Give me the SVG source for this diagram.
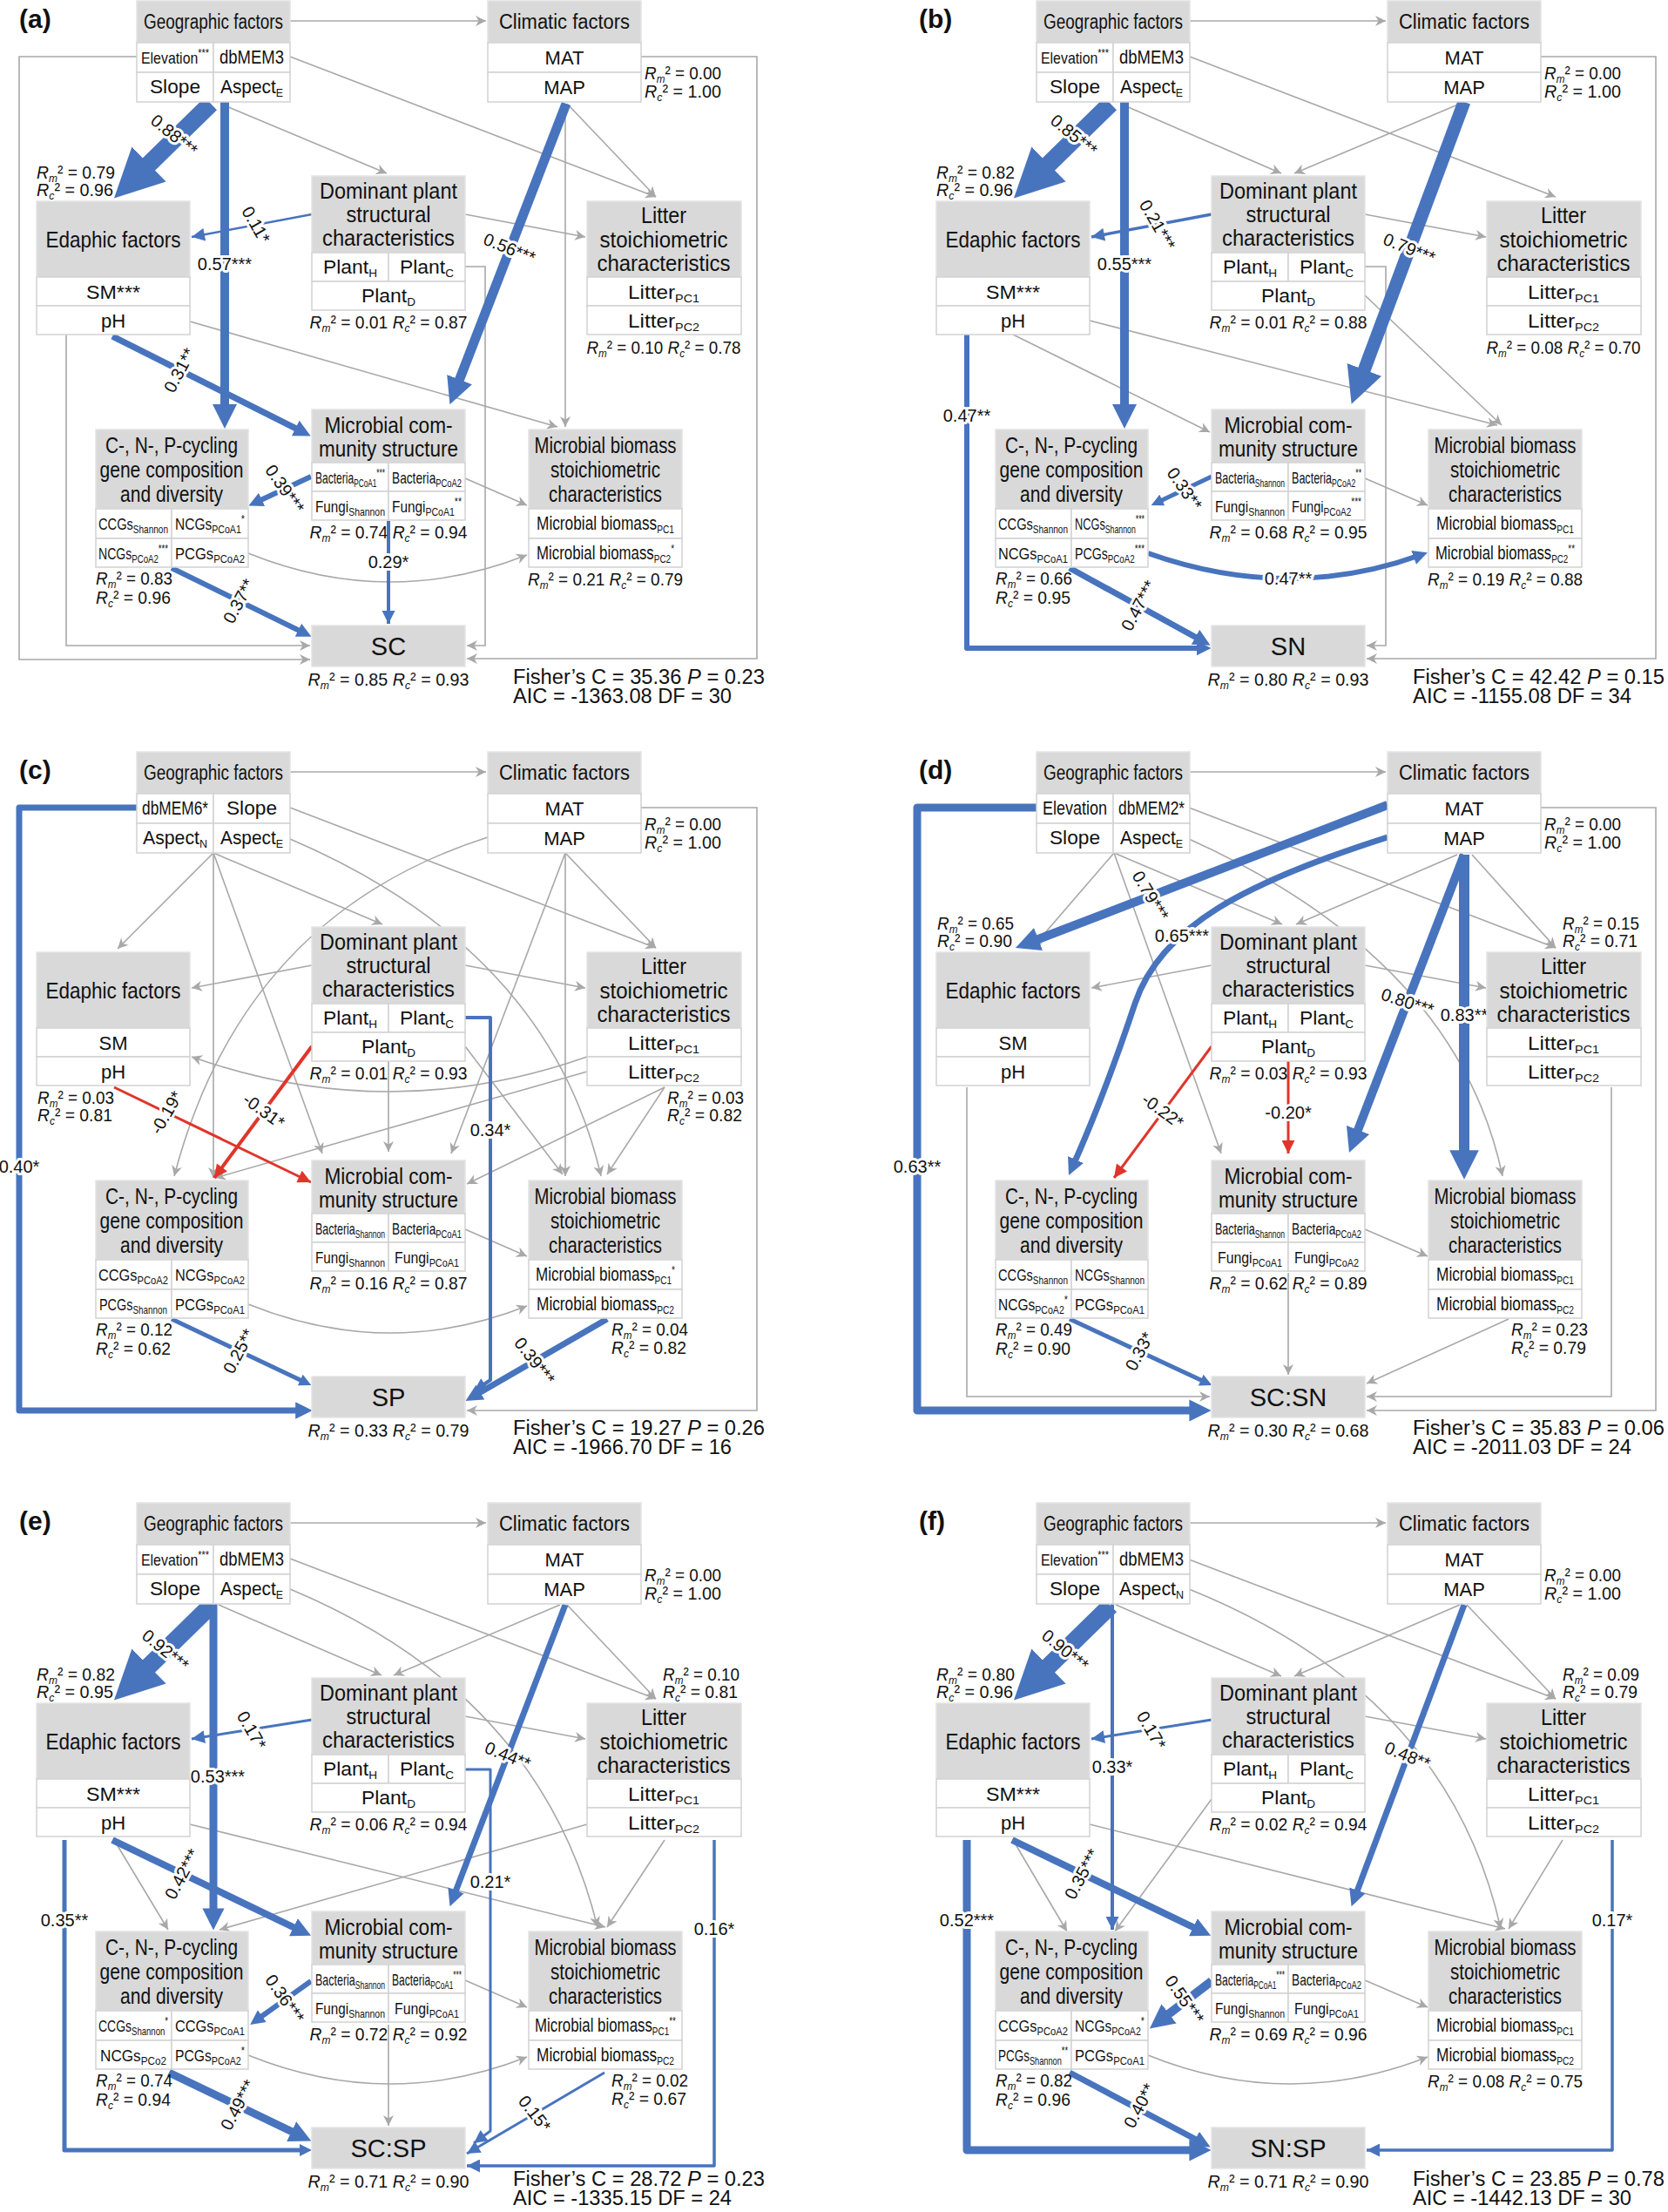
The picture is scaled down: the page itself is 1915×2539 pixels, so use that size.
<svg xmlns="http://www.w3.org/2000/svg" xmlns:xlink="http://www.w3.org/1999/xlink" width="1915" height="2539" viewBox="0 0 1915 2539">
<style>
text{font-family:"Liberation Sans Narrow","Liberation Sans",Arial,sans-serif;fill:#111}
.h{fill:#d9d9d9;stroke:#e4e4e4;stroke-width:1.5}
.c{fill:#fff;stroke:#d2d2d2;stroke-width:1.5}
.h1{font-size:23px;text-anchor:middle}
.h2{font-size:25px;text-anchor:middle}
.cl{font-size:22px;text-anchor:middle}
.cs{font-size:19px;text-anchor:middle}
.s{font-size:13px}
.i{font-style:italic}
.rm{font-size:21px}
.rmc{font-size:21px;text-anchor:middle}
.rs{font-size:29px;text-anchor:middle}
.fi{font-size:23px}
.pl{font-family:"Liberation Sans",Arial,sans-serif;font-weight:bold;font-size:30px}
.g{fill:none;stroke:#a8a8a8;stroke-width:1.6;marker-end:url(#ag)}
.b{fill:none;stroke:#4874be;stroke-linejoin:round;marker-end:url(#ab)}
.bt{fill:none;stroke:#4874be;stroke-linejoin:round;marker-end:url(#abs)}
.r{fill:none;stroke:#e0352b;marker-end:url(#ar)}
.lb{font-size:20px;text-anchor:middle;dominant-baseline:central;stroke:#fff;stroke-width:6;paint-order:stroke;stroke-linejoin:round}
</style>
<defs>
<marker id="ag" viewBox="0 0 10 10" refX="10" refY="5" markerUnits="userSpaceOnUse" markerWidth="13" markerHeight="12" orient="auto"><path d="M0,0 L10,5 L0,10 L3,5 z" fill="#a8a8a8"/></marker>
<marker id="ab" viewBox="0 0 10 10" refX="5" refY="5" markerWidth="2.8" markerHeight="3" orient="auto"><path d="M0,0 L10,5 L0,10 z" fill="#4874be"/></marker>
<marker id="abs" viewBox="0 0 10 10" refX="10" refY="5" markerUnits="userSpaceOnUse" markerWidth="17" markerHeight="15" orient="auto"><path d="M0,0 L10,5 L0,10 z" fill="#4874be"/></marker>
<marker id="ar" viewBox="0 0 10 10" refX="10" refY="5" markerUnits="userSpaceOnUse" markerWidth="18" markerHeight="15" orient="auto"><path d="M0,0 L10,5 L0,10 z" fill="#e0352b"/></marker>
<g id="geoBox"><rect class="h" x="157" y="1" width="176" height="48"/><rect class="c" x="157" y="49" width="88" height="34"/><rect class="c" x="245" y="49" width="88" height="34"/><rect class="c" x="157" y="83" width="88" height="34"/><rect class="c" x="245" y="83" width="88" height="34"/><text class="h1" x="245" y="33" textLength="160" lengthAdjust="spacingAndGlyphs">Geographic factors</text></g>
<g id="cliBox"><rect class="h" x="560" y="1" width="176" height="48"/><rect class="c" x="560" y="49" width="176" height="34"/><rect class="c" x="560" y="83" width="176" height="34"/><text class="h1" x="648" y="33" textLength="150" lengthAdjust="spacingAndGlyphs">Climatic factors</text><text class="cl" x="648" y="74">MAT</text><text class="cl" x="648" y="108">MAP</text>
<text class="rm" x="740" y="91" textLength="88" lengthAdjust="spacingAndGlyphs"><tspan class="i">R</tspan><tspan class="i s" dy="4">m</tspan><tspan dy="-4">² = 0.00</tspan></text><text class="rm" x="740" y="112" textLength="88" lengthAdjust="spacingAndGlyphs"><tspan class="i">R</tspan><tspan class="i s" dy="4">c</tspan><tspan dy="-4">² = 1.00</tspan></text></g>
<g id="edaBox"><rect class="h" x="42" y="231" width="176" height="87"/><rect class="c" x="42" y="318" width="176" height="33"/><rect class="c" x="42" y="351" width="176" height="33"/><text class="h2" x="130" y="284" font-size="26" textLength="155" lengthAdjust="spacingAndGlyphs">Edaphic factors</text></g>
<g id="domBox"><rect class="h" x="358" y="202" width="176" height="88"/><rect class="c" x="358" y="290" width="88" height="33"/><rect class="c" x="446" y="290" width="88" height="33"/><rect class="c" x="358" y="323" width="176" height="33"/><text class="h2" x="446" y="228" textLength="158" lengthAdjust="spacingAndGlyphs">Dominant plant</text><text class="h2" x="446" y="255" textLength="97" lengthAdjust="spacingAndGlyphs">structural</text><text class="h2" x="446" y="282" textLength="152" lengthAdjust="spacingAndGlyphs">characteristics</text><text class="cl" x="402" y="314" textLength="62" lengthAdjust="spacingAndGlyphs">Plant<tspan class="s" dy="4">H</tspan></text><text class="cl" x="490" y="314" textLength="62" lengthAdjust="spacingAndGlyphs">Plant<tspan class="s" dy="4">C</tspan></text><text class="cl" x="446" y="347" textLength="62" lengthAdjust="spacingAndGlyphs">Plant<tspan class="s" dy="4">D</tspan></text></g>
<g id="litBox"><rect class="h" x="674" y="231" width="177" height="87"/><rect class="c" x="674" y="318" width="177" height="33"/><rect class="c" x="674" y="351" width="177" height="33"/><text class="h2" x="762" y="256" textLength="52" lengthAdjust="spacingAndGlyphs">Litter</text><text class="h2" x="762" y="284" textLength="147" lengthAdjust="spacingAndGlyphs">stoichiometric</text><text class="h2" x="762" y="311" textLength="153" lengthAdjust="spacingAndGlyphs">characteristics</text><text class="cl" x="762" y="343" textLength="82" lengthAdjust="spacingAndGlyphs">Litter<tspan class="s" dy="4">PC1</tspan></text><text class="cl" x="762" y="376" textLength="82" lengthAdjust="spacingAndGlyphs">Litter<tspan class="s" dy="4">PC2</tspan></text></g>
<g id="micBox"><rect class="h" x="358" y="470" width="176" height="61"/><rect class="c" x="358" y="531" width="88" height="33"/><rect class="c" x="446" y="531" width="88" height="33"/><rect class="c" x="358" y="564" width="88" height="33"/><rect class="c" x="446" y="564" width="88" height="33"/><text class="h2" x="446" y="497" textLength="147" lengthAdjust="spacingAndGlyphs">Microbial com-</text><text class="h2" x="446" y="524" textLength="160" lengthAdjust="spacingAndGlyphs">munity structure</text></g>
<g id="cnpBox"><rect class="h" x="110" y="493" width="175" height="91"/><rect class="c" x="110" y="584" width="87" height="34"/><rect class="c" x="197" y="584" width="88" height="34"/><rect class="c" x="110" y="618" width="87" height="33"/><rect class="c" x="197" y="618" width="88" height="33"/><text class="h2" x="197" y="520" textLength="152" lengthAdjust="spacingAndGlyphs">C-, N-, P-cycling</text><text class="h2" x="197" y="548" textLength="165" lengthAdjust="spacingAndGlyphs">gene composition</text><text class="h2" x="197" y="576" textLength="118" lengthAdjust="spacingAndGlyphs">and diversity</text></g>
<g id="bioBox"><rect class="h" x="607" y="493" width="176" height="91"/><rect class="c" x="607" y="584" width="176" height="34"/><rect class="c" x="607" y="618" width="176" height="33"/><text class="h2" x="695" y="520" textLength="163" lengthAdjust="spacingAndGlyphs">Microbial biomass</text><text class="h2" x="695" y="548" textLength="126" lengthAdjust="spacingAndGlyphs">stoichiometric</text><text class="h2" x="695" y="576" textLength="130" lengthAdjust="spacingAndGlyphs">characteristics</text></g>
<g id="resBox"><rect class="h" x="358" y="718" width="176" height="47"/></g>
</defs>
<rect width="1915" height="2539" fill="#fff"/>

<!-- PANEL A -->
<g id="panel-a">
<g id="a-connectors">
<path class="g" d="M333,24 H558"/><path class="g" d="M333,65 L753,226"/><path class="g" d="M260,122 L444,199"/><path class="g" d="M651,119 L753,226"/><path class="g" d="M649,119 V490"/><path class="g" d="M534,246 L672,272"/><path class="g" d="M534,306 H557 V741 H536"/><path class="g" d="M76,384 V741 H356"/><path class="g" d="M157,65 H22 V757 H356"/><path class="g" d="M736,65 H869 V756 H536"/><path class="g" d="M218,369 L640,490"/><path class="g" d="M534,549 L605,580"/><path class="g" d="M285,635 Q446,700 605,637"/>
<path class="b" stroke-width="20" d="M242,119 L151,208"/>
<path class="b" stroke-width="10" d="M258,117 V478"/>
<path class="bt" stroke-width="2.5" d="M358,246 L220,272"/>
<path class="b" stroke-width="11" d="M650,119 L522,450"/>
<path class="b" stroke-width="7" d="M129,386 L348,496"/>
<path class="b" stroke-width="6" d="M357,547 L293,577"/>
<path class="bt" stroke-width="4" d="M446,598 V716"/>
<path class="b" stroke-width="6" d="M197,652 L350,727"/>
<text class="lb" transform="translate(200,155) rotate(39)">0.88***</text>
<text class="lb" x="258" y="303">0.57***</text>
<text class="lb" transform="translate(294,258) rotate(60)">0.11*</text>
<text class="lb" transform="translate(585,285) rotate(22)">0.56***</text>
<text class="lb" transform="translate(206,425) rotate(-62)">0.31**</text>
<text class="lb" transform="translate(327,561) rotate(55)">0.39***</text>
<text class="lb" x="446" y="645">0.29*</text>
<text class="lb" transform="translate(274,690) rotate(-62)">0.37**</text>
</g>
<text class="pl" x="22" y="32">(a)</text>
<g id="a-geo"><use href="#geoBox"/><text class="cs" x="201" y="73" textLength="78" lengthAdjust="spacingAndGlyphs">Elevation<tspan class="s" dy="-8">***</tspan></text><text class="cl" x="289" y="73" textLength="74" lengthAdjust="spacingAndGlyphs">dbMEM3</text><text class="cl" x="201" y="107" textLength="58" lengthAdjust="spacingAndGlyphs">Slope</text><text class="cl" x="289" y="107" textLength="72" lengthAdjust="spacingAndGlyphs">Aspect<tspan class="s" dy="4">E</tspan></text></g>
<g id="a-cli"><use href="#cliBox"/></g>
<g id="a-eda"><use href="#edaBox"/><text class="cl" x="130" y="343" textLength="62" lengthAdjust="spacingAndGlyphs">SM***</text><text class="cl" x="130" y="376">pH</text><text class="rm" x="42" y="205" textLength="90" lengthAdjust="spacingAndGlyphs"><tspan class="i">R</tspan><tspan class="i s" dy="4">m</tspan><tspan dy="-4">² = 0.79</tspan></text><text class="rm" x="42" y="225" textLength="88" lengthAdjust="spacingAndGlyphs"><tspan class="i">R</tspan><tspan class="i s" dy="4">c</tspan><tspan dy="-4">² = 0.96</tspan></text></g>
<g id="a-dom"><use href="#domBox"/><text class="rmc" x="446" y="377" textLength="181" lengthAdjust="spacingAndGlyphs"><tspan class="i">R</tspan><tspan class="i s" dy="4">m</tspan><tspan dy="-4">² = 0.01 </tspan><tspan class="i">R</tspan><tspan class="i s" dy="4">c</tspan><tspan dy="-4">² = 0.87</tspan></text></g>
<g id="a-lit"><use href="#litBox"/><text class="rmc" x="762" y="406" textLength="177" lengthAdjust="spacingAndGlyphs"><tspan class="i">R</tspan><tspan class="i s" dy="4">m</tspan><tspan dy="-4">² = 0.10 </tspan><tspan class="i">R</tspan><tspan class="i s" dy="4">c</tspan><tspan dy="-4">² = 0.78</tspan></text></g>
<g id="a-mic"><use href="#micBox"/><text class="cs" x="402" y="555" textLength="80" lengthAdjust="spacingAndGlyphs">Bacteria<tspan class="s" dy="4">PCoA1</tspan><tspan class="s" dy="-12">***</tspan></text><text class="cs" x="490" y="555" textLength="80" lengthAdjust="spacingAndGlyphs">Bacteria<tspan class="s" dy="4">PCoA2</tspan></text><text class="cs" x="402" y="588" textLength="80" lengthAdjust="spacingAndGlyphs">Fungi<tspan class="s" dy="4">Shannon</tspan></text><text class="cs" x="490" y="588" textLength="80" lengthAdjust="spacingAndGlyphs">Fungi<tspan class="s" dy="4">PCoA1</tspan><tspan class="s" dy="-12">**</tspan></text><text class="rmc" x="446" y="618" textLength="181" lengthAdjust="spacingAndGlyphs"><tspan class="i">R</tspan><tspan class="i s" dy="4">m</tspan><tspan dy="-4">² = 0.74 </tspan><tspan class="i">R</tspan><tspan class="i s" dy="4">c</tspan><tspan dy="-4">² = 0.94</tspan></text></g>
<g id="a-cnp"><use href="#cnpBox"/><text class="cs" x="153" y="608" textLength="80" lengthAdjust="spacingAndGlyphs">CCGs<tspan class="s" dy="4">Shannon</tspan></text><text class="cs" x="241" y="608" textLength="80" lengthAdjust="spacingAndGlyphs">NCGs<tspan class="s" dy="4">PCoA1</tspan><tspan class="s" dy="-12">*</tspan></text><text class="cs" x="153" y="642" textLength="80" lengthAdjust="spacingAndGlyphs">NCGs<tspan class="s" dy="4">PCoA2</tspan><tspan class="s" dy="-12">***</tspan></text><text class="cs" x="241" y="642" textLength="80" lengthAdjust="spacingAndGlyphs">PCGs<tspan class="s" dy="4">PCoA2</tspan></text><text class="rm" x="110" y="671" textLength="88" lengthAdjust="spacingAndGlyphs"><tspan class="i">R</tspan><tspan class="i s" dy="4">m</tspan><tspan dy="-4">² = 0.83</tspan></text><text class="rm" x="110" y="693" textLength="86" lengthAdjust="spacingAndGlyphs"><tspan class="i">R</tspan><tspan class="i s" dy="4">c</tspan><tspan dy="-4">² = 0.96</tspan></text></g>
<g id="a-bio"><use href="#bioBox"/><text class="cl" x="695" y="608" textLength="158" lengthAdjust="spacingAndGlyphs">Microbial  biomass<tspan class="s" dy="4">PC1</tspan></text><text class="cl" x="695" y="642" textLength="158" lengthAdjust="spacingAndGlyphs">Microbial biomass<tspan class="s" dy="4">PC2</tspan><tspan class="s" dy="-12">*</tspan></text><text class="rmc" x="695" y="672" textLength="178" lengthAdjust="spacingAndGlyphs"><tspan class="i">R</tspan><tspan class="i s" dy="4">m</tspan><tspan dy="-4">² = 0.21 </tspan><tspan class="i">R</tspan><tspan class="i s" dy="4">c</tspan><tspan dy="-4">² = 0.79</tspan></text></g>
<g id="a-res"><use href="#resBox"/><text class="rs" x="446" y="752">SC</text><text class="rmc" x="446" y="787" textLength="185" lengthAdjust="spacingAndGlyphs"><tspan class="i">R</tspan><tspan class="i s" dy="4">m</tspan><tspan dy="-4">² = 0.85  </tspan><tspan class="i">R</tspan><tspan class="i s" dy="4">c</tspan><tspan dy="-4">² = 0.93</tspan></text></g>
<text class="fi" x="589" y="785" textLength="289" lengthAdjust="spacingAndGlyphs">Fisher’s C = 35.36 <tspan class="i">P</tspan> = 0.23</text><text class="fi" x="589" y="807" textLength="251" lengthAdjust="spacingAndGlyphs">AIC = -1363.08 DF = 30</text>
</g>

<!-- PANEL B -->
<g id="panel-b" transform="translate(1033,0)">
<g id="b-connectors">
<path class="g" d="M333,24 H558"/><path class="g" d="M333,65 L753,226"/><path class="g" d="M260,122 L438,199"/><path class="g" d="M648,117 L453,199"/><path class="g" d="M534,246 L673,272"/><path class="g" d="M534,306 H558 V741 H536"/><path class="g" d="M534,339 L691,488"/><path class="g" d="M736,65 H868 V756 H536"/><path class="g" d="M218,368 L686,488"/><path class="g" d="M130,384 L356,496"/><path class="g" d="M534,549 L606,580"/>
<path class="b" stroke-width="20" d="M242,119 L151,208"/>
<path class="b" stroke-width="10" d="M258,117 V478"/>
<path class="bt" stroke-width="3.5" d="M358,246 L220,272"/>
<path class="b" stroke-width="15" d="M648,117 L526,444"/>
<path class="b" stroke-width="6" d="M77,384 V744 H349"/>
<path class="b" stroke-width="5" d="M358,547 L295,577"/>
<path class="b" stroke-width="6" d="M285,635 Q446,692 598,637"/>
<path class="b" stroke-width="7" d="M195,652 L348,736"/>
<text class="lb" transform="translate(200,155) rotate(39)">0.85***</text>
<text class="lb" x="258" y="303">0.55***</text>
<text class="lb" transform="translate(296,258) rotate(60)">0.21***</text>
<text class="lb" transform="translate(585,285) rotate(22)">0.79***</text>
<text class="lb" x="77" y="477">0.47**</text>
<text class="lb" transform="translate(327,561) rotate(55)">0.33**</text>
<text class="lb" x="446" y="664">0.47**</text>
<text class="lb" transform="translate(274,695) rotate(-62)">0.47***</text>
</g>
<text class="pl" x="22" y="32">(b)</text>
<g id="b-geo"><use href="#geoBox"/><text class="cs" x="201" y="73" textLength="78" lengthAdjust="spacingAndGlyphs">Elevation<tspan class="s" dy="-8">***</tspan></text><text class="cl" x="289" y="73" textLength="74" lengthAdjust="spacingAndGlyphs">dbMEM3</text><text class="cl" x="201" y="107" textLength="58" lengthAdjust="spacingAndGlyphs">Slope</text><text class="cl" x="289" y="107" textLength="72" lengthAdjust="spacingAndGlyphs">Aspect<tspan class="s" dy="4">E</tspan></text></g>
<g id="b-cli"><use href="#cliBox"/></g>
<g id="b-eda"><use href="#edaBox"/><text class="cl" x="130" y="343" textLength="62" lengthAdjust="spacingAndGlyphs">SM***</text><text class="cl" x="130" y="376">pH</text><text class="rm" x="42" y="205" textLength="90" lengthAdjust="spacingAndGlyphs"><tspan class="i">R</tspan><tspan class="i s" dy="4">m</tspan><tspan dy="-4">² = 0.82</tspan></text><text class="rm" x="42" y="225" textLength="88" lengthAdjust="spacingAndGlyphs"><tspan class="i">R</tspan><tspan class="i s" dy="4">c</tspan><tspan dy="-4">² = 0.96</tspan></text></g>
<g id="b-dom"><use href="#domBox"/><text class="rmc" x="446" y="377" textLength="181" lengthAdjust="spacingAndGlyphs"><tspan class="i">R</tspan><tspan class="i s" dy="4">m</tspan><tspan dy="-4">² = 0.01 </tspan><tspan class="i">R</tspan><tspan class="i s" dy="4">c</tspan><tspan dy="-4">² = 0.88</tspan></text></g>
<g id="b-lit"><use href="#litBox"/><text class="rmc" x="762" y="406" textLength="177" lengthAdjust="spacingAndGlyphs"><tspan class="i">R</tspan><tspan class="i s" dy="4">m</tspan><tspan dy="-4">² = 0.08 </tspan><tspan class="i">R</tspan><tspan class="i s" dy="4">c</tspan><tspan dy="-4">² = 0.70</tspan></text></g>
<g id="b-mic"><use href="#micBox"/><text class="cs" x="402" y="555" textLength="80" lengthAdjust="spacingAndGlyphs">Bacteria<tspan class="s" dy="4">Shannon</tspan></text><text class="cs" x="490" y="555" textLength="80" lengthAdjust="spacingAndGlyphs">Bacteria<tspan class="s" dy="4">PCoA2</tspan><tspan class="s" dy="-12">**</tspan></text><text class="cs" x="402" y="588" textLength="80" lengthAdjust="spacingAndGlyphs">Fungi<tspan class="s" dy="4">Shannon</tspan></text><text class="cs" x="490" y="588" textLength="80" lengthAdjust="spacingAndGlyphs">Fungi<tspan class="s" dy="4">PCoA2</tspan><tspan class="s" dy="-12">***</tspan></text><text class="rmc" x="446" y="618" textLength="181" lengthAdjust="spacingAndGlyphs"><tspan class="i">R</tspan><tspan class="i s" dy="4">m</tspan><tspan dy="-4">² = 0.68 </tspan><tspan class="i">R</tspan><tspan class="i s" dy="4">c</tspan><tspan dy="-4">² = 0.95</tspan></text></g>
<g id="b-cnp"><use href="#cnpBox"/><text class="cs" x="153" y="608" textLength="80" lengthAdjust="spacingAndGlyphs">CCGs<tspan class="s" dy="4">Shannon</tspan></text><text class="cs" x="241" y="608" textLength="80" lengthAdjust="spacingAndGlyphs">NCGs<tspan class="s" dy="4">Shannon</tspan><tspan class="s" dy="-12">***</tspan></text><text class="cs" x="153" y="642" textLength="80" lengthAdjust="spacingAndGlyphs">NCGs<tspan class="s" dy="4">PCoA1</tspan></text><text class="cs" x="241" y="642" textLength="80" lengthAdjust="spacingAndGlyphs">PCGs<tspan class="s" dy="4">PCoA2</tspan><tspan class="s" dy="-12">***</tspan></text><text class="rm" x="110" y="671" textLength="88" lengthAdjust="spacingAndGlyphs"><tspan class="i">R</tspan><tspan class="i s" dy="4">m</tspan><tspan dy="-4">² = 0.66</tspan></text><text class="rm" x="110" y="693" textLength="86" lengthAdjust="spacingAndGlyphs"><tspan class="i">R</tspan><tspan class="i s" dy="4">c</tspan><tspan dy="-4">² = 0.95</tspan></text></g>
<g id="b-bio"><use href="#bioBox"/><text class="cl" x="695" y="608" textLength="158" lengthAdjust="spacingAndGlyphs">Microbial  biomass<tspan class="s" dy="4">PC1</tspan></text><text class="cl" x="695" y="642" textLength="160" lengthAdjust="spacingAndGlyphs">Microbial biomass<tspan class="s" dy="4">PC2</tspan><tspan class="s" dy="-12">**</tspan></text><text class="rmc" x="695" y="672" textLength="178" lengthAdjust="spacingAndGlyphs"><tspan class="i">R</tspan><tspan class="i s" dy="4">m</tspan><tspan dy="-4">² = 0.19 </tspan><tspan class="i">R</tspan><tspan class="i s" dy="4">c</tspan><tspan dy="-4">² = 0.88</tspan></text></g>
<g id="b-res"><use href="#resBox"/><text class="rs" x="446" y="752">SN</text><text class="rmc" x="446" y="787" textLength="185" lengthAdjust="spacingAndGlyphs"><tspan class="i">R</tspan><tspan class="i s" dy="4">m</tspan><tspan dy="-4">² = 0.80  </tspan><tspan class="i">R</tspan><tspan class="i s" dy="4">c</tspan><tspan dy="-4">² = 0.93</tspan></text></g>
<text class="fi" x="589" y="785" textLength="289" lengthAdjust="spacingAndGlyphs">Fisher’s C = 42.42 <tspan class="i">P</tspan> = 0.15</text><text class="fi" x="589" y="807" textLength="251" lengthAdjust="spacingAndGlyphs">AIC = -1155.08 DF = 34</text>
</g>

<!-- PANEL C -->
<g id="panel-c" transform="translate(0,862)">
<g id="c-connectors">
<path class="g" d="M333,24 H558"/><path class="g" d="M333,65 L753,226"/><path class="g" d="M333,101 Q630,228 690,488"/><path class="g" d="M245,117 L135,227"/><path class="g" d="M245,117 L439,199"/><path class="g" d="M245,117 L370,462"/><path class="g" d="M245,117 V490"/><path class="g" d="M560,99 C400,150 260,260 200,488"/><path class="g" d="M649,117 L753,226"/><path class="g" d="M649,117 V488"/><path class="g" d="M649,117 L518,462"/><path class="g" d="M358,246 L220,272"/><path class="g" d="M534,246 L672,272"/><path class="g" d="M446,356 V460"/><path class="g" d="M534,339 L646,486"/><path class="g" d="M674,351 Q446,431 220,351"/><path class="g" d="M674,368 L247,490"/><path class="g" d="M763,386 L536,497"/><path class="g" d="M763,386 L697,486"/><path class="g" d="M534,549 L605,580"/><path class="g" d="M285,635 Q446,700 605,637"/><path class="g" d="M736,65 H869 V757 H536"/>
<path class="b" stroke-width="7" d="M157,65 H22 V757 H349"/>
<path class="bt" stroke-width="4" d="M534,306 H563 V722 L544,735"/>
<path class="b" stroke-width="5" d="M197,652 L351,725"/>
<path class="b" stroke-width="7" d="M697,652 L543,741"/>
<path class="r" stroke-width="3" d="M131,386 L357,495"/>
<path class="r" stroke-width="4" d="M358,339 L246,490"/>
<text class="lb" x="22" y="477">0.40*</text>
<text class="lb" x="563" y="435">0.34*</text>
<text class="lb" transform="translate(274,689) rotate(-62)">0.25**</text>
<text class="lb" transform="translate(614,700) rotate(52)">0.39***</text>
<text class="lb" transform="translate(191,415) rotate(-60)">-0.19*</text>
<text class="lb" transform="translate(303,413) rotate(36)">-0.31*</text>
</g>
<text class="pl" x="22" y="32">(c)</text>
<g id="c-geo"><use href="#geoBox"/><text class="cl" x="201" y="73" textLength="76" lengthAdjust="spacingAndGlyphs">dbMEM6*</text><text class="cl" x="289" y="73" textLength="58" lengthAdjust="spacingAndGlyphs">Slope</text><text class="cl" x="201" y="107" textLength="74" lengthAdjust="spacingAndGlyphs">Aspect<tspan class="s" dy="4">N</tspan></text><text class="cl" x="289" y="107" textLength="72" lengthAdjust="spacingAndGlyphs">Aspect<tspan class="s" dy="4">E</tspan></text></g>
<g id="c-cli"><use href="#cliBox"/></g>
<g id="c-eda"><use href="#edaBox"/><text class="cl" x="130" y="343">SM</text><text class="cl" x="130" y="376">pH</text><text class="rm" x="43" y="405" textLength="88" lengthAdjust="spacingAndGlyphs"><tspan class="i">R</tspan><tspan class="i s" dy="4">m</tspan><tspan dy="-4">² = 0.03</tspan></text><text class="rm" x="43" y="425" textLength="86" lengthAdjust="spacingAndGlyphs"><tspan class="i">R</tspan><tspan class="i s" dy="4">c</tspan><tspan dy="-4">² = 0.81</tspan></text></g>
<g id="c-dom"><use href="#domBox"/><text class="rmc" x="446" y="377" textLength="181" lengthAdjust="spacingAndGlyphs"><tspan class="i">R</tspan><tspan class="i s" dy="4">m</tspan><tspan dy="-4">² = 0.01 </tspan><tspan class="i">R</tspan><tspan class="i s" dy="4">c</tspan><tspan dy="-4">² = 0.93</tspan></text></g>
<g id="c-lit"><use href="#litBox"/><text class="rm" x="766" y="405" textLength="88" lengthAdjust="spacingAndGlyphs"><tspan class="i">R</tspan><tspan class="i s" dy="4">m</tspan><tspan dy="-4">² = 0.03</tspan></text><text class="rm" x="766" y="425" textLength="86" lengthAdjust="spacingAndGlyphs"><tspan class="i">R</tspan><tspan class="i s" dy="4">c</tspan><tspan dy="-4">² = 0.82</tspan></text></g>
<g id="c-mic"><use href="#micBox"/><text class="cs" x="402" y="555" textLength="80" lengthAdjust="spacingAndGlyphs">Bacteria<tspan class="s" dy="4">Shannon</tspan></text><text class="cs" x="490" y="555" textLength="80" lengthAdjust="spacingAndGlyphs">Bacteria<tspan class="s" dy="4">PCoA1</tspan></text><text class="cs" x="402" y="588" textLength="80" lengthAdjust="spacingAndGlyphs">Fungi<tspan class="s" dy="4">Shannon</tspan></text><text class="cs" x="490" y="588" textLength="74" lengthAdjust="spacingAndGlyphs">Fungi<tspan class="s" dy="4">PCoA1</tspan></text><text class="rmc" x="446" y="618" textLength="181" lengthAdjust="spacingAndGlyphs"><tspan class="i">R</tspan><tspan class="i s" dy="4">m</tspan><tspan dy="-4">² = 0.16 </tspan><tspan class="i">R</tspan><tspan class="i s" dy="4">c</tspan><tspan dy="-4">² = 0.87</tspan></text></g>
<g id="c-cnp"><use href="#cnpBox"/><text class="cs" x="153" y="608" textLength="80" lengthAdjust="spacingAndGlyphs">CCGs<tspan class="s" dy="4">PCoA2</tspan></text><text class="cs" x="241" y="608" textLength="80" lengthAdjust="spacingAndGlyphs">NCGs<tspan class="s" dy="4">PCoA2</tspan></text><text class="cs" x="153" y="642" textLength="78" lengthAdjust="spacingAndGlyphs">PCGs<tspan class="s" dy="4">Shannon</tspan></text><text class="cs" x="241" y="642" textLength="80" lengthAdjust="spacingAndGlyphs">PCGs<tspan class="s" dy="4">PCoA1</tspan></text><text class="rm" x="110" y="671" textLength="88" lengthAdjust="spacingAndGlyphs"><tspan class="i">R</tspan><tspan class="i s" dy="4">m</tspan><tspan dy="-4">² = 0.12</tspan></text><text class="rm" x="110" y="693" textLength="86" lengthAdjust="spacingAndGlyphs"><tspan class="i">R</tspan><tspan class="i s" dy="4">c</tspan><tspan dy="-4">² = 0.62</tspan></text></g>
<g id="c-bio"><use href="#bioBox"/><text class="cl" x="695" y="608" textLength="160" lengthAdjust="spacingAndGlyphs">Microbial  biomass<tspan class="s" dy="4">PC1</tspan><tspan class="s" dy="-12">*</tspan></text><text class="cl" x="695" y="642" textLength="158" lengthAdjust="spacingAndGlyphs">Microbial biomass<tspan class="s" dy="4">PC2</tspan></text><text class="rm" x="702" y="671" textLength="88" lengthAdjust="spacingAndGlyphs"><tspan class="i">R</tspan><tspan class="i s" dy="4">m</tspan><tspan dy="-4">² = 0.04</tspan></text><text class="rm" x="702" y="692" textLength="86" lengthAdjust="spacingAndGlyphs"><tspan class="i">R</tspan><tspan class="i s" dy="4">c</tspan><tspan dy="-4">² = 0.82</tspan></text></g>
<g id="c-res"><use href="#resBox"/><text class="rs" x="446" y="752">SP</text><text class="rmc" x="446" y="787" textLength="185" lengthAdjust="spacingAndGlyphs"><tspan class="i">R</tspan><tspan class="i s" dy="4">m</tspan><tspan dy="-4">² = 0.33  </tspan><tspan class="i">R</tspan><tspan class="i s" dy="4">c</tspan><tspan dy="-4">² = 0.79</tspan></text></g>
<text class="fi" x="589" y="785" textLength="289" lengthAdjust="spacingAndGlyphs">Fisher’s C = 19.27 <tspan class="i">P</tspan> = 0.26</text><text class="fi" x="589" y="807" textLength="251" lengthAdjust="spacingAndGlyphs">AIC = -1966.70 DF = 16</text>
</g>

<!-- PANEL D -->
<g id="panel-d" transform="translate(1033,862)">
<g id="d-connectors">
<path class="g" d="M333,24 H558"/><path class="g" d="M332,65 L753,226"/><path class="g" d="M332,101 Q640,240 692,488"/><path class="g" d="M246,117 L152,226"/><path class="g" d="M246,117 L439,199"/><path class="g" d="M246,117 L369,462"/><path class="g" d="M640,119 L455,199"/><path class="g" d="M657,119 L753,226"/><path class="g" d="M358,246 L220,272"/><path class="g" d="M534,246 L673,272"/><path class="g" d="M77,386 V741 H356"/><path class="g" d="M817,386 V741 H536"/><path class="g" d="M736,65 H868 V757 H536"/><path class="g" d="M446,599 V716"/><path class="g" d="M534,549 L606,580"/><path class="g" d="M699,652 L536,726"/>
<path class="b" stroke-width="9" d="M157,65 H20 V757 H345"/>
<path class="b" stroke-width="10" d="M560,62 L146,221"/>
<path class="b" stroke-width="7" d="M560,99 C400,150 300,200 270,290 S215,440 198,478"/>
<path class="b" stroke-width="10" d="M648,119 L521,448"/>
<path class="b" stroke-width="12" d="M648,119 V475"/>
<path class="b" stroke-width="5" d="M195,652 L352,725"/>
<path class="r" stroke-width="3" d="M358,339 L246,490"/>
<path class="r" stroke-width="3" d="M446,356 V462"/>
<text class="lb" x="20" y="477">0.63**</text>
<text class="lb" transform="translate(288,166) rotate(59)">0.79***</text>
<text class="lb" x="324" y="212">0.65***</text>
<text class="lb" transform="translate(583,288) rotate(18)">0.80***</text>
<text class="lb" x="648" y="303">0.83**</text>
<text class="lb" transform="translate(275,689) rotate(-62)">0.33*</text>
<text class="lb" transform="translate(302,413) rotate(36)">-0.22*</text>
<text class="lb" x="446" y="415">-0.20*</text>
</g>
<text class="pl" x="22" y="32">(d)</text>
<g id="d-geo"><use href="#geoBox"/><text class="cl" x="201" y="73" textLength="74" lengthAdjust="spacingAndGlyphs">Elevation</text><text class="cl" x="289" y="73" textLength="76" lengthAdjust="spacingAndGlyphs">dbMEM2*</text><text class="cl" x="201" y="107" textLength="58" lengthAdjust="spacingAndGlyphs">Slope</text><text class="cl" x="289" y="107" textLength="72" lengthAdjust="spacingAndGlyphs">Aspect<tspan class="s" dy="4">E</tspan></text></g>
<g id="d-cli"><use href="#cliBox"/></g>
<g id="d-eda"><use href="#edaBox"/><text class="cl" x="130" y="343">SM</text><text class="cl" x="130" y="376">pH</text><text class="rm" x="43" y="205" textLength="88" lengthAdjust="spacingAndGlyphs"><tspan class="i">R</tspan><tspan class="i s" dy="4">m</tspan><tspan dy="-4">² = 0.65</tspan></text><text class="rm" x="43" y="225" textLength="86" lengthAdjust="spacingAndGlyphs"><tspan class="i">R</tspan><tspan class="i s" dy="4">c</tspan><tspan dy="-4">² = 0.90</tspan></text></g>
<g id="d-dom"><use href="#domBox"/><text class="rmc" x="446" y="377" textLength="181" lengthAdjust="spacingAndGlyphs"><tspan class="i">R</tspan><tspan class="i s" dy="4">m</tspan><tspan dy="-4">² = 0.03 </tspan><tspan class="i">R</tspan><tspan class="i s" dy="4">c</tspan><tspan dy="-4">² = 0.93</tspan></text></g>
<g id="d-lit"><use href="#litBox"/><text class="rm" x="761" y="205" textLength="88" lengthAdjust="spacingAndGlyphs"><tspan class="i">R</tspan><tspan class="i s" dy="4">m</tspan><tspan dy="-4">² = 0.15</tspan></text><text class="rm" x="761" y="225" textLength="86" lengthAdjust="spacingAndGlyphs"><tspan class="i">R</tspan><tspan class="i s" dy="4">c</tspan><tspan dy="-4">² = 0.71</tspan></text></g>
<g id="d-mic"><use href="#micBox"/><text class="cs" x="402" y="555" textLength="80" lengthAdjust="spacingAndGlyphs">Bacteria<tspan class="s" dy="4">Shannon</tspan></text><text class="cs" x="490" y="555" textLength="80" lengthAdjust="spacingAndGlyphs">Bacteria<tspan class="s" dy="4">PCoA2</tspan></text><text class="cs" x="402" y="588" textLength="74" lengthAdjust="spacingAndGlyphs">Fungi<tspan class="s" dy="4">PCoA1</tspan></text><text class="cs" x="490" y="588" textLength="74" lengthAdjust="spacingAndGlyphs">Fungi<tspan class="s" dy="4">PCoA2</tspan></text><text class="rmc" x="446" y="618" textLength="181" lengthAdjust="spacingAndGlyphs"><tspan class="i">R</tspan><tspan class="i s" dy="4">m</tspan><tspan dy="-4">² = 0.62 </tspan><tspan class="i">R</tspan><tspan class="i s" dy="4">c</tspan><tspan dy="-4">² = 0.89</tspan></text></g>
<g id="d-cnp"><use href="#cnpBox"/><text class="cs" x="153" y="608" textLength="80" lengthAdjust="spacingAndGlyphs">CCGs<tspan class="s" dy="4">Shannon</tspan></text><text class="cs" x="241" y="608" textLength="80" lengthAdjust="spacingAndGlyphs">NCGs<tspan class="s" dy="4">Shannon</tspan></text><text class="cs" x="153" y="642" textLength="80" lengthAdjust="spacingAndGlyphs">NCGs<tspan class="s" dy="4">PCoA2</tspan><tspan class="s" dy="-12">*</tspan></text><text class="cs" x="241" y="642" textLength="80" lengthAdjust="spacingAndGlyphs">PCGs<tspan class="s" dy="4">PCoA1</tspan></text><text class="rm" x="110" y="671" textLength="88" lengthAdjust="spacingAndGlyphs"><tspan class="i">R</tspan><tspan class="i s" dy="4">m</tspan><tspan dy="-4">² = 0.49</tspan></text><text class="rm" x="110" y="693" textLength="86" lengthAdjust="spacingAndGlyphs"><tspan class="i">R</tspan><tspan class="i s" dy="4">c</tspan><tspan dy="-4">² = 0.90</tspan></text></g>
<g id="d-bio"><use href="#bioBox"/><text class="cl" x="695" y="608" textLength="158" lengthAdjust="spacingAndGlyphs">Microbial  biomass<tspan class="s" dy="4">PC1</tspan></text><text class="cl" x="695" y="642" textLength="158" lengthAdjust="spacingAndGlyphs">Microbial biomass<tspan class="s" dy="4">PC2</tspan></text><text class="rm" x="702" y="671" textLength="88" lengthAdjust="spacingAndGlyphs"><tspan class="i">R</tspan><tspan class="i s" dy="4">m</tspan><tspan dy="-4">² = 0.23</tspan></text><text class="rm" x="702" y="692" textLength="86" lengthAdjust="spacingAndGlyphs"><tspan class="i">R</tspan><tspan class="i s" dy="4">c</tspan><tspan dy="-4">² = 0.79</tspan></text></g>
<g id="d-res"><use href="#resBox"/><text class="rs" x="446" y="752">SC:SN</text><text class="rmc" x="446" y="787" textLength="185" lengthAdjust="spacingAndGlyphs"><tspan class="i">R</tspan><tspan class="i s" dy="4">m</tspan><tspan dy="-4">² = 0.30  </tspan><tspan class="i">R</tspan><tspan class="i s" dy="4">c</tspan><tspan dy="-4">² = 0.68</tspan></text></g>
<text class="fi" x="589" y="785" textLength="289" lengthAdjust="spacingAndGlyphs">Fisher’s C = 35.83 <tspan class="i">P</tspan> = 0.06</text><text class="fi" x="589" y="807" textLength="251" lengthAdjust="spacingAndGlyphs">AIC = -2011.03 DF = 24</text>
</g>

<!-- PANEL E -->
<g id="panel-e" transform="translate(0,1724)">
<g id="e-connectors">
<path class="g" d="M333,24 H558"/><path class="g" d="M333,65 L753,226"/><path class="g" d="M333,100 Q620,220 686,488"/><path class="g" d="M251,118 L438,199"/><path class="g" d="M643,118 L452,199"/><path class="g" d="M651,118 L753,226"/><path class="g" d="M534,246 L672,272"/><path class="g" d="M674,370 L252,491"/><path class="g" d="M763,388 L697,488"/><path class="g" d="M218,370 L695,488"/><path class="g" d="M131,388 L193,491"/><path class="g" d="M446,600 V716"/><path class="g" d="M534,549 L605,580"/><path class="g" d="M285,635 Q446,700 605,637"/>
<path class="b" stroke-width="20" d="M242,119 L151,208"/>
<path class="b" stroke-width="9" d="M245,117 V479"/>
<path class="bt" stroke-width="3" d="M358,250 L220,272"/>
<path class="b" stroke-width="7" d="M649,118 L520,455"/>
<path class="b" stroke-width="8" d="M129,388 L347,493"/>
<path class="b" stroke-width="6" d="M357,550 L294,595"/>
<path class="b" stroke-width="5" d="M74,388 V744 H351"/>
<path class="bt" stroke-width="3" d="M534,307 H563 V722 L544,736"/>
<path class="b" stroke-width="9" d="M194,655 L346,728"/>
<path class="bt" stroke-width="3" d="M694,655 L536,748"/>
<path class="bt" stroke-width="3.5" d="M820,388 V762 H536"/>
<text class="lb" transform="translate(190,170) rotate(39)">0.92***</text>
<text class="lb" x="250" y="315">0.53***</text>
<text class="lb" transform="translate(289,262) rotate(60)">0.17*</text>
<text class="lb" transform="translate(583,291) rotate(22)">0.44**</text>
<text class="lb" transform="translate(209,427) rotate(-62)">0.42***</text>
<text class="lb" transform="translate(327,570) rotate(55)">0.36***</text>
<text class="lb" x="74" y="480">0.35**</text>
<text class="lb" x="563" y="436">0.21*</text>
<text class="lb" transform="translate(273,692) rotate(-62)">0.49***</text>
<text class="lb" transform="translate(614,702) rotate(52)">0.15*</text>
<text class="lb" x="820" y="490">0.16*</text>
</g>
<text class="pl" x="22" y="32">(e)</text>
<g id="e-geo"><use href="#geoBox"/><text class="cs" x="201" y="73" textLength="78" lengthAdjust="spacingAndGlyphs">Elevation<tspan class="s" dy="-8">***</tspan></text><text class="cl" x="289" y="73" textLength="74" lengthAdjust="spacingAndGlyphs">dbMEM3</text><text class="cl" x="201" y="107" textLength="58" lengthAdjust="spacingAndGlyphs">Slope</text><text class="cl" x="289" y="107" textLength="72" lengthAdjust="spacingAndGlyphs">Aspect<tspan class="s" dy="4">E</tspan></text></g>
<g id="e-cli"><use href="#cliBox"/></g>
<g id="e-eda"><use href="#edaBox"/><text class="cl" x="130" y="343" textLength="62" lengthAdjust="spacingAndGlyphs">SM***</text><text class="cl" x="130" y="376">pH</text><text class="rm" x="42" y="205" textLength="90" lengthAdjust="spacingAndGlyphs"><tspan class="i">R</tspan><tspan class="i s" dy="4">m</tspan><tspan dy="-4">² = 0.82</tspan></text><text class="rm" x="42" y="225" textLength="88" lengthAdjust="spacingAndGlyphs"><tspan class="i">R</tspan><tspan class="i s" dy="4">c</tspan><tspan dy="-4">² = 0.95</tspan></text></g>
<g id="e-dom"><use href="#domBox"/><text class="rmc" x="446" y="377" textLength="181" lengthAdjust="spacingAndGlyphs"><tspan class="i">R</tspan><tspan class="i s" dy="4">m</tspan><tspan dy="-4">² = 0.06 </tspan><tspan class="i">R</tspan><tspan class="i s" dy="4">c</tspan><tspan dy="-4">² = 0.94</tspan></text></g>
<g id="e-lit"><use href="#litBox"/><text class="rm" x="761" y="205" textLength="88" lengthAdjust="spacingAndGlyphs"><tspan class="i">R</tspan><tspan class="i s" dy="4">m</tspan><tspan dy="-4">² = 0.10</tspan></text><text class="rm" x="761" y="225" textLength="86" lengthAdjust="spacingAndGlyphs"><tspan class="i">R</tspan><tspan class="i s" dy="4">c</tspan><tspan dy="-4">² = 0.81</tspan></text></g>
<g id="e-mic"><use href="#micBox"/><text class="cs" x="402" y="555" textLength="80" lengthAdjust="spacingAndGlyphs">Bacteria<tspan class="s" dy="4">Shannon</tspan></text><text class="cs" x="490" y="555" textLength="80" lengthAdjust="spacingAndGlyphs">Bacteria<tspan class="s" dy="4">PCoA1</tspan><tspan class="s" dy="-12">***</tspan></text><text class="cs" x="402" y="588" textLength="80" lengthAdjust="spacingAndGlyphs">Fungi<tspan class="s" dy="4">Shannon</tspan></text><text class="cs" x="490" y="588" textLength="74" lengthAdjust="spacingAndGlyphs">Fungi<tspan class="s" dy="4">PCoA1</tspan></text><text class="rmc" x="446" y="618" textLength="181" lengthAdjust="spacingAndGlyphs"><tspan class="i">R</tspan><tspan class="i s" dy="4">m</tspan><tspan dy="-4">² = 0.72 </tspan><tspan class="i">R</tspan><tspan class="i s" dy="4">c</tspan><tspan dy="-4">² = 0.92</tspan></text></g>
<g id="e-cnp"><use href="#cnpBox"/><text class="cs" x="153" y="608" textLength="80" lengthAdjust="spacingAndGlyphs">CCGs<tspan class="s" dy="4">Shannon</tspan><tspan class="s" dy="-12">*</tspan></text><text class="cs" x="241" y="608" textLength="80" lengthAdjust="spacingAndGlyphs">CCGs<tspan class="s" dy="4">PCoA1</tspan></text><text class="cs" x="153" y="642" textLength="76" lengthAdjust="spacingAndGlyphs">NCGs<tspan class="s" dy="4">PCo2</tspan></text><text class="cs" x="241" y="642" textLength="80" lengthAdjust="spacingAndGlyphs">PCGs<tspan class="s" dy="4">PCoA2</tspan><tspan class="s" dy="-12">*</tspan></text><text class="rm" x="110" y="671" textLength="88" lengthAdjust="spacingAndGlyphs"><tspan class="i">R</tspan><tspan class="i s" dy="4">m</tspan><tspan dy="-4">² = 0.74</tspan></text><text class="rm" x="110" y="693" textLength="86" lengthAdjust="spacingAndGlyphs"><tspan class="i">R</tspan><tspan class="i s" dy="4">c</tspan><tspan dy="-4">² = 0.94</tspan></text></g>
<g id="e-bio"><use href="#bioBox"/><text class="cl" x="695" y="608" textLength="162" lengthAdjust="spacingAndGlyphs">Microbial  biomass<tspan class="s" dy="4">PC1</tspan><tspan class="s" dy="-12">**</tspan></text><text class="cl" x="695" y="642" textLength="158" lengthAdjust="spacingAndGlyphs">Microbial biomass<tspan class="s" dy="4">PC2</tspan></text><text class="rm" x="702" y="671" textLength="88" lengthAdjust="spacingAndGlyphs"><tspan class="i">R</tspan><tspan class="i s" dy="4">m</tspan><tspan dy="-4">² = 0.02</tspan></text><text class="rm" x="702" y="692" textLength="86" lengthAdjust="spacingAndGlyphs"><tspan class="i">R</tspan><tspan class="i s" dy="4">c</tspan><tspan dy="-4">² = 0.67</tspan></text></g>
<g id="e-res"><use href="#resBox"/><text class="rs" x="446" y="752">SC:SP</text><text class="rmc" x="446" y="787" textLength="185" lengthAdjust="spacingAndGlyphs"><tspan class="i">R</tspan><tspan class="i s" dy="4">m</tspan><tspan dy="-4">² = 0.71  </tspan><tspan class="i">R</tspan><tspan class="i s" dy="4">c</tspan><tspan dy="-4">² = 0.90</tspan></text></g>
<text class="fi" x="589" y="785" textLength="289" lengthAdjust="spacingAndGlyphs">Fisher’s C = 28.72 <tspan class="i">P</tspan> = 0.23</text><text class="fi" x="589" y="807" textLength="251" lengthAdjust="spacingAndGlyphs">AIC = -1335.15 DF = 24</text>
</g>

<!-- PANEL F -->
<g id="panel-f" transform="translate(1033,1724)">
<g id="f-connectors">
<path class="g" d="M333,24 H558"/><path class="g" d="M332,66 L753,226"/><path class="g" d="M332,100 Q630,220 690,490"/><path class="g" d="M248,118 L438,200"/><path class="g" d="M643,118 L453,200"/><path class="g" d="M651,118 L753,226"/><path class="g" d="M534,246 L673,272"/><path class="g" d="M358,341 L247,493"/><path class="g" d="M218,370 L695,490"/><path class="g" d="M761,388 L699,490"/><path class="g" d="M130,388 L192,493"/><path class="g" d="M534,549 L606,580"/><path class="g" d="M285,635 Q446,700 606,637"/>
<path class="b" stroke-width="20" d="M242,119 L151,208"/>
<path class="bt" stroke-width="4" d="M244,117 V491"/>
<path class="bt" stroke-width="3" d="M358,250 L220,272"/>
<path class="b" stroke-width="7" d="M648,118 L522,455"/>
<path class="b" stroke-width="8" d="M129,388 L347,493"/>
<path class="b" stroke-width="10" d="M358,550 L298,596"/>
<path class="b" stroke-width="9" d="M77,388 V744 H345"/>
<path class="b" stroke-width="7" d="M195,655 L348,736"/>
<path class="bt" stroke-width="3.5" d="M818,388 V744 H536"/>
<text class="lb" transform="translate(190,170) rotate(39)">0.90***</text>
<text class="lb" x="244" y="304">0.33*</text>
<text class="lb" transform="translate(289,262) rotate(60)">0.17*</text>
<text class="lb" transform="translate(583,291) rotate(22)">0.48**</text>
<text class="lb" transform="translate(209,427) rotate(-62)">0.35***</text>
<text class="lb" transform="translate(327,571) rotate(55)">0.55***</text>
<text class="lb" x="77" y="480">0.52***</text>
<text class="lb" transform="translate(275,693) rotate(-62)">0.40**</text>
<text class="lb" x="818" y="480">0.17*</text>
</g>
<text class="pl" x="22" y="32">(f)</text>
<g id="f-geo"><use href="#geoBox"/><text class="cs" x="201" y="73" textLength="78" lengthAdjust="spacingAndGlyphs">Elevation<tspan class="s" dy="-8">***</tspan></text><text class="cl" x="289" y="73" textLength="74" lengthAdjust="spacingAndGlyphs">dbMEM3</text><text class="cl" x="201" y="107" textLength="58" lengthAdjust="spacingAndGlyphs">Slope</text><text class="cl" x="289" y="107" textLength="74" lengthAdjust="spacingAndGlyphs">Aspect<tspan class="s" dy="4">N</tspan></text></g>
<g id="f-cli"><use href="#cliBox"/></g>
<g id="f-eda"><use href="#edaBox"/><text class="cl" x="130" y="343" textLength="62" lengthAdjust="spacingAndGlyphs">SM***</text><text class="cl" x="130" y="376">pH</text><text class="rm" x="42" y="205" textLength="90" lengthAdjust="spacingAndGlyphs"><tspan class="i">R</tspan><tspan class="i s" dy="4">m</tspan><tspan dy="-4">² = 0.80</tspan></text><text class="rm" x="42" y="225" textLength="88" lengthAdjust="spacingAndGlyphs"><tspan class="i">R</tspan><tspan class="i s" dy="4">c</tspan><tspan dy="-4">² = 0.96</tspan></text></g>
<g id="f-dom"><use href="#domBox"/><text class="rmc" x="446" y="377" textLength="181" lengthAdjust="spacingAndGlyphs"><tspan class="i">R</tspan><tspan class="i s" dy="4">m</tspan><tspan dy="-4">² = 0.02 </tspan><tspan class="i">R</tspan><tspan class="i s" dy="4">c</tspan><tspan dy="-4">² = 0.94</tspan></text></g>
<g id="f-lit"><use href="#litBox"/><text class="rm" x="761" y="205" textLength="88" lengthAdjust="spacingAndGlyphs"><tspan class="i">R</tspan><tspan class="i s" dy="4">m</tspan><tspan dy="-4">² = 0.09</tspan></text><text class="rm" x="761" y="225" textLength="86" lengthAdjust="spacingAndGlyphs"><tspan class="i">R</tspan><tspan class="i s" dy="4">c</tspan><tspan dy="-4">² = 0.79</tspan></text></g>
<g id="f-mic"><use href="#micBox"/><text class="cs" x="402" y="555" textLength="80" lengthAdjust="spacingAndGlyphs">Bacteria<tspan class="s" dy="4">PCoA1</tspan><tspan class="s" dy="-12">***</tspan></text><text class="cs" x="490" y="555" textLength="80" lengthAdjust="spacingAndGlyphs">Bacteria<tspan class="s" dy="4">PCoA2</tspan></text><text class="cs" x="402" y="588" textLength="80" lengthAdjust="spacingAndGlyphs">Fungi<tspan class="s" dy="4">Shannon</tspan></text><text class="cs" x="490" y="588" textLength="74" lengthAdjust="spacingAndGlyphs">Fungi<tspan class="s" dy="4">PCoA1</tspan></text><text class="rmc" x="446" y="618" textLength="181" lengthAdjust="spacingAndGlyphs"><tspan class="i">R</tspan><tspan class="i s" dy="4">m</tspan><tspan dy="-4">² = 0.69 </tspan><tspan class="i">R</tspan><tspan class="i s" dy="4">c</tspan><tspan dy="-4">² = 0.96</tspan></text></g>
<g id="f-cnp"><use href="#cnpBox"/><text class="cs" x="153" y="608" textLength="80" lengthAdjust="spacingAndGlyphs">CCGs<tspan class="s" dy="4">PCoA2</tspan></text><text class="cs" x="241" y="608" textLength="80" lengthAdjust="spacingAndGlyphs">NCGs<tspan class="s" dy="4">PCoA2</tspan><tspan class="s" dy="-12">*</tspan></text><text class="cs" x="153" y="642" textLength="80" lengthAdjust="spacingAndGlyphs">PCGs<tspan class="s" dy="4">Shannon</tspan><tspan class="s" dy="-12">**</tspan></text><text class="cs" x="241" y="642" textLength="80" lengthAdjust="spacingAndGlyphs">PCGs<tspan class="s" dy="4">PCoA1</tspan></text><text class="rm" x="110" y="671" textLength="88" lengthAdjust="spacingAndGlyphs"><tspan class="i">R</tspan><tspan class="i s" dy="4">m</tspan><tspan dy="-4">² = 0.82</tspan></text><text class="rm" x="110" y="693" textLength="86" lengthAdjust="spacingAndGlyphs"><tspan class="i">R</tspan><tspan class="i s" dy="4">c</tspan><tspan dy="-4">² = 0.96</tspan></text></g>
<g id="f-bio"><use href="#bioBox"/><text class="cl" x="695" y="608" textLength="158" lengthAdjust="spacingAndGlyphs">Microbial  biomass<tspan class="s" dy="4">PC1</tspan></text><text class="cl" x="695" y="642" textLength="158" lengthAdjust="spacingAndGlyphs">Microbial biomass<tspan class="s" dy="4">PC2</tspan></text><text class="rmc" x="695" y="672" textLength="178" lengthAdjust="spacingAndGlyphs"><tspan class="i">R</tspan><tspan class="i s" dy="4">m</tspan><tspan dy="-4">² = 0.08 </tspan><tspan class="i">R</tspan><tspan class="i s" dy="4">c</tspan><tspan dy="-4">² = 0.75</tspan></text></g>
<g id="f-res"><use href="#resBox"/><text class="rs" x="446" y="752">SN:SP</text><text class="rmc" x="446" y="787" textLength="185" lengthAdjust="spacingAndGlyphs"><tspan class="i">R</tspan><tspan class="i s" dy="4">m</tspan><tspan dy="-4">² = 0.71  </tspan><tspan class="i">R</tspan><tspan class="i s" dy="4">c</tspan><tspan dy="-4">² = 0.90</tspan></text></g>
<text class="fi" x="589" y="785" textLength="289" lengthAdjust="spacingAndGlyphs">Fisher’s C = 23.85 <tspan class="i">P</tspan> = 0.78</text><text class="fi" x="589" y="807" textLength="251" lengthAdjust="spacingAndGlyphs">AIC = -1442.13 DF = 30</text>
</g>
</svg>
